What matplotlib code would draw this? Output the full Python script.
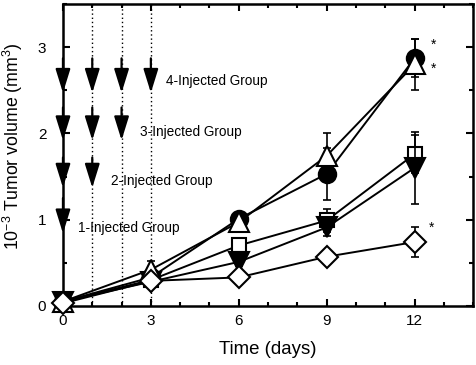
import matplotlib
matplotlib.use("Agg")
import matplotlib.pyplot as plt
import numpy as np

plt.rcParams['font.family'] = ['Liberation Sans', 'DejaVu Sans']
plt.rcParams['mathtext.fontset'] = 'custom'
plt.rcParams['mathtext.rm'] = 'Liberation Sans'
plt.rcParams['mathtext.it'] = 'Liberation Sans'

days = [0, 3, 6, 9, 12]

circle_vals = [0.05, 0.33, 1.01, 1.53, 2.87]
circle_err = [0.02, 0.05, 0.08, 0.30, 0.22]
tri_up_vals = [0.05, 0.42, 0.97, 1.74, 2.80]
tri_up_err = [0.02, 0.10, 0.10, 0.26, 0.30]
square_vals = [0.05, 0.30, 0.70, 0.99, 1.76]
square_err = [0.02, 0.05, 0.08, 0.13, 0.22]
tri_dn_vals = [0.05, 0.28, 0.51, 0.91, 1.60]
tri_dn_err = [0.02, 0.05, 0.05, 0.10, 0.42]
diamond_vals = [0.03, 0.29, 0.33, 0.57, 0.74]
diamond_err = [0.02, 0.05, 0.03, 0.03, 0.17]

injection_days = [0, 1, 2, 3]
group_labels = ['1-Injected Group', '2-Injected Group', '3-Injected Group', '4-Injected Group']
arrow_tips = [0.84, 1.37, 1.92, 2.47]
arrow_tops = [1.25, 1.72, 2.30, 2.87]
label_pos = [(0.5, 0.90), (1.65, 1.45), (2.62, 2.02), (3.5, 2.61)]

star_pos = [(12.55, 3.03), (12.55, 2.75), (12.5, 0.90)]

fig = plt.figure(figsize=(4.77, 3.65), dpi=100)
ax = fig.add_axes([0.132, 0.162, 0.860, 0.827])

# dotted injection lines
for d in injection_days[1:]:
    ax.plot([d, d], [0, 3.5], ls=(0, (1, 2)), color='black', lw=1.0, zorder=1)

# arrows
for i, (tip, top) in enumerate(zip(arrow_tips, arrow_tops)):
    for d in injection_days[:i + 1]:
        ax.annotate('', xy=(d, tip), xytext=(d, top),
                    arrowprops=dict(arrowstyle='-|>,head_length=1.45,head_width=0.45',
                                    mutation_scale=10, color='black', lw=1.6,
                                    shrinkA=0, shrinkB=0), zorder=3)
    ax.text(label_pos[i][0], label_pos[i][1], group_labels[i], fontsize=9.8,
            ha='left', va='center', zorder=4)

series = [
    (square_vals, square_err, 's', 10.5, 'white'),
    (tri_dn_vals, tri_dn_err, 'v', 15, 'black'),
    (circle_vals, circle_err, 'o', 12.5, 'black'),
    (tri_up_vals, tri_up_err, '^', 15, 'white'),
    (diamond_vals, diamond_err, 'D', 11.5, 'white'),
]
for k, (vals, err, mk, ms, fc) in enumerate(series):
    ax.errorbar(days, vals, yerr=err, fmt='none', ecolor='black', elinewidth=1.2,
                capsize=3, capthick=1.2, zorder=5 + k, clip_on=False)
    ax.plot(days, vals, color='black', lw=1.4, marker=mk, ms=ms, mfc=fc,
            mec='black', mew=1.5, zorder=5 + k, clip_on=False)

for (sx, sy) in star_pos:
    ax.text(sx, sy, '*', fontsize=10, ha='left', va='center')

ax.set_xlim(0, 14)
ax.set_ylim(0, 3.5)
ax.set_xticks([0, 3, 6, 9, 12])
ax.set_xticks(np.arange(0, 15, 1), minor=True)
ax.set_yticks([0, 1, 2, 3])
ax.set_yticks(np.arange(0, 3.6, 0.5), minor=True)
ax.tick_params(which='both', direction='in', top=True, right=True, width=1.5,
               labelsize=11, colors='black')
ax.tick_params(which='major', length=5)
ax.tick_params(which='minor', length=3)
ax.tick_params(axis='x', pad=6)
ax.tick_params(axis='y', pad=12)
for s in ax.spines.values():
    s.set_linewidth(1.8)

ax.set_xlabel('Time (days)', fontsize=13.4, labelpad=9)
ax.set_ylabel(r'10$^{\mathregular{-3}}$ Tumor volume (mm$^{\mathregular{3}}$)', fontsize=12.8)
ax.yaxis.set_label_coords(-0.092, 0.53)

fig.savefig('out.png', dpi=100)
